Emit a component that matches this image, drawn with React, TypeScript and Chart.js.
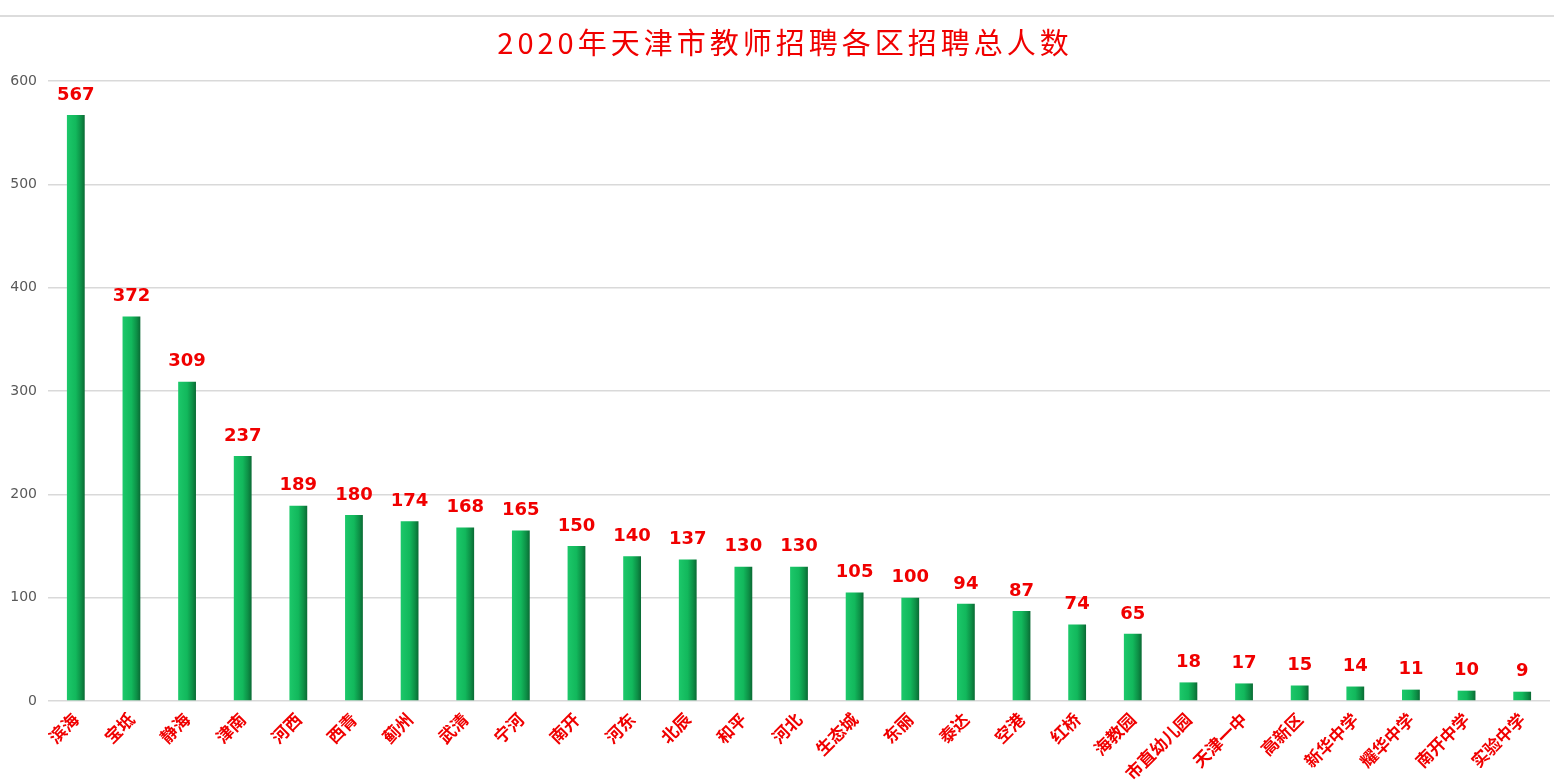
import React, { useEffect, useRef } from "react";
import { Chart, registerables } from "chart.js";

Chart.register(...registerables);

const categories = ["滨海", "宝坻", "静海", "津南", "河西", "西青", "蓟州", "武清", "宁河", "南开", "河东", "北辰", "和平", "河北", "生态城", "东丽", "泰达", "空港", "红桥", "海教园", "市直幼儿园", "天津一中", "高新区", "新华中学", "耀华中学", "南开中学", "实验中学"];
const values = [567, 372, 309, 237, 189, 180, 174, 168, 165, 150, 140, 137, 130, 130, 105, 100, 94, 87, 74, 65, 18, 17, 15, 14, 11, 10, 9];
const yTicks = [0, 100, 200, 300, 400, 500, 600];
const title = "2020年天津市教师招聘各区招聘总人数";

const BAR_PCT = 0.32;

const valueLabelPlugin = {
  id: "valueLabels",
  afterDatasetsDraw(chart: any) {
    const c = chart.ctx;
    const meta = chart.getDatasetMeta(0);
    c.save();
    c.fillStyle = "#f00000";
    c.font = "bold 18px 'DejaVu Sans', Verdana, sans-serif";
    c.textAlign = "center";
    c.textBaseline = "bottom";
    meta.data.forEach((el: any, i: number) => {
      c.fillText(String(values[i]), el.x, el.y - 11);
    });
    c.restore();
  },
};

const titlePlugin = {
  id: "customTitle",
  beforeDraw(chart: any) {
    const c = chart.ctx;
    c.save();
    c.strokeStyle = "#dcdcdc";
    c.lineWidth = 2;
    c.beginPath();
    c.moveTo(0, 16);
    c.lineTo(chart.width, 16);
    c.stroke();
    c.fillStyle = "#f00000";
    c.font = "29px 'Noto Sans CJK SC', sans-serif";
    (c as any).letterSpacing = "4px";
    c.textAlign = "center";
    c.textBaseline = "middle";
    c.fillText(title, 785, 43);
    c.restore();
  },
};

export default function App() {
  const ref = useRef<HTMLCanvasElement>(null);
  useEffect(() => {
    document.body.style.margin = "0";
    const chart = new Chart(ref.current!, {
      type: "bar",
      data: {
        labels: categories,
        datasets: [
          {
            data: values,
            backgroundColor: (ctx: any) => {
              const ch = ctx.chart;
              const xs = ch.scales && ch.scales.x;
              if (!xs || !ch.chartArea) return "#12b258";
              const cx = xs.getPixelForValue(ctx.dataIndex);
              const w = (ch.chartArea.width / categories.length) * BAR_PCT;
              const g = ch.ctx.createLinearGradient(cx - w / 2, 0, cx + w / 2, 0);
              g.addColorStop(0, "#1cc86a");
              g.addColorStop(0.5, "#12b85c");
              g.addColorStop(0.8, "#0d8f46");
              g.addColorStop(1, "#0a6a34");
              return g;
            },
            barPercentage: BAR_PCT,
            categoryPercentage: 1,
          },
        ],
      },
      options: {
        animation: false,
        responsive: false,
        maintainAspectRatio: false,
        layout: { padding: { top: 81, right: 4, left: 2, bottom: 0 } },
        plugins: {
          legend: { display: false },
          tooltip: { enabled: false },
          title: { display: false },
        },
        scales: {
          x: {
            grid: { display: false },
            border: { display: false },
            afterFit(axis: any) {
              axis.height = 79;
            },
            ticks: {
              color: "#f00000",
              maxRotation: 45,
              minRotation: 45,
              autoSkip: false,
              font: { family: "'Noto Sans CJK SC', sans-serif", size: 17, weight: "bold" },
              padding: 0,
            },
          },
          y: {
            min: 0,
            max: 600,
            afterBuildTicks(axis: any) {
              axis.ticks = yTicks.map((v) => ({ value: v }));
            },
            afterFit(axis: any) {
              axis.width = 46;
            },
            grid: { color: "#d9d9d9", lineWidth: 1.5, drawTicks: false },
            border: { display: false },
            ticks: {
              color: "#595959",
              font: { family: "'DejaVu Sans', sans-serif", size: 14 },
              padding: 11,
            },
          },
        },
      },
      plugins: [titlePlugin, valueLabelPlugin],
    });
    return () => chart.destroy();
  }, []);
  return <canvas ref={ref} width={1554} height={780} style={{ display: "block" }} />;
}
